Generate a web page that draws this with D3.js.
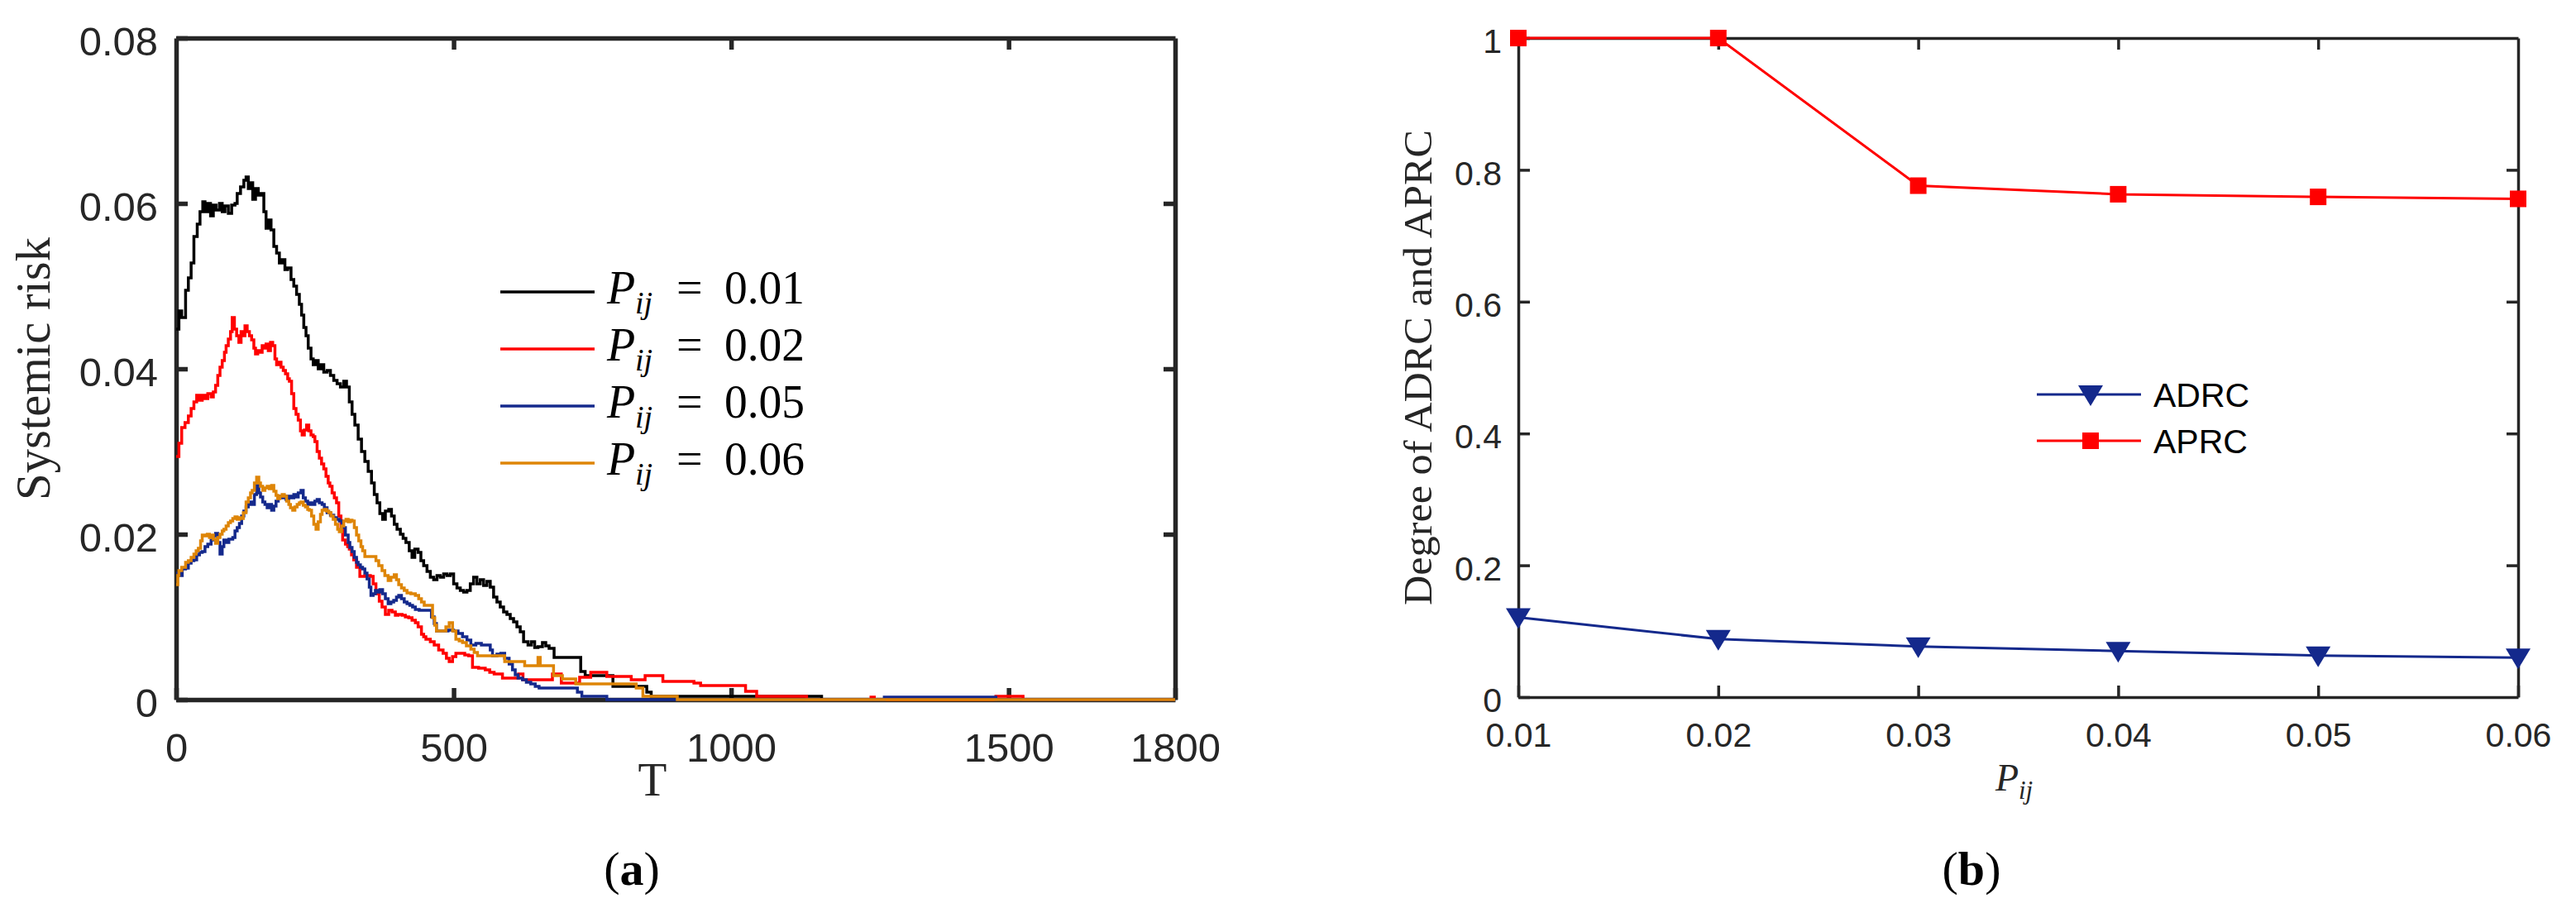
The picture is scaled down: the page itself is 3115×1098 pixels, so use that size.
<!DOCTYPE html>
<html>
<head>
<meta charset="utf-8">
<script src="https://cdn.jsdelivr.net/npm/d3@7"></script>
<style>
  body { margin: 0; background: #ffffff; }
  figure { margin: 0; }
</style>
</head>
<body>
<figure></figure>
<script>
// systemic risk over time T as [T, value]
const riskP001 = [
  [0, .0448], [5, .047], [10, .0462], [17, .0495], [22, .051], [27, .0528], [32, .056], [38, .0575],
  [43, .059], [48, .0602], [52, .059], [57, .06], [62, .0585], [67, .0598], [72, .0592], [78, .06],
  [83, .059], [88, .0597], [94, .0588], [100, .0598], [106, .06], [110, .0612], [116, .062], [122, .0628],
  [126, .0632], [130, .0618], [134, .0625], [138, .0605], [143, .0618], [148, .061], [153, .0612],
  [158, .059], [162, .057], [166, .058], [171, .0568], [176, .0548], [181, .054], [186, .0528],
  [191, .0532], [196, .052], [201, .0522], [207, .0508], [212, .05], [217, .049], [222, .0478],
  [226, .0465], [230, .045], [234, .044], [238, .0425], [243, .0412], [247, .0405], [252, .041],
  [256, .04], [261, .0405], [266, .0396], [272, .0398], [278, .0392], [284, .0386], [290, .0382],
  [296, .0378], [302, .0385], [307, .0378], [312, .036], [317, .0345], [322, .0332], [328, .0315],
  [334, .03], [340, .0288], [346, .0276], [352, .0262], [357, .0248], [362, .0238], [367, .0225],
  [372, .0218], [377, .0228], [383, .023], [388, .0222], [393, .0212], [398, .0206], [404, .02],
  [409, .0195], [414, .019], [420, .018], [425, .0172], [430, .0182], [436, .0178], [441, .0168],
  [446, .0162], [452, .0155], [458, .0148], [464, .0145], [470, .015], [476, .0148], [482, .0152],
  [488, .015], [494, .0152], [500, .014], [506, .0135], [512, .0132], [518, .013], [524, .0132],
  [530, .014], [536, .0148], [542, .014], [548, .0145], [554, .0138], [560, .0143], [566, .0136],
  [572, .0124], [578, .0118], [584, .0112], [590, .0106], [596, .0103], [602, .0098], [608, .0094],
  [614, .0088], [620, .0082], [626, .007], [634, .0066], [640, .007], [646, .0063], [652, .0064],
  [660, .0069], [666, .0065], [672, .0062], [681, .0051], [729, .0034], [737, .0029], [787, .0016],
  [848, .0009], [856, .0004], [1163, 0], [1800, 0]
];

const riskP002 = [
  [0, .0294], [5, .031], [10, .0329], [16, .0335], [22, .0343], [27, .0352], [32, .036], [37, .0368],
  [42, .0362], [47, .0368], [52, .0364], [57, .037], [63, .0366], [67, .0372], [71, .038], [75, .0392],
  [79, .0402], [83, .041], [87, .042], [90, .0428], [94, .0436], [98, .0445], [101, .0462], [105, .0448],
  [109, .044], [113, .0432], [117, .0445], [120, .044], [124, .0452], [128, .0445], [132, .044],
  [136, .0435], [140, .0425], [143, .0418], [147, .0422], [151, .042], [155, .0428], [158, .0425],
  [162, .043], [166, .0422], [170, .0432], [174, .0428], [178, .0412], [181, .0405], [185, .0408],
  [189, .0402], [193, .0398], [197, .0394], [201, .0388], [204, .0385], [208, .037], [212, .0352],
  [216, .0345], [220, .0338], [224, .0325], [227, .032], [231, .0326], [235, .0332], [239, .0325],
  [243, .032], [247, .0318], [250, .0312], [254, .03], [258, .0292], [262, .0285], [266, .0279],
  [270, .027], [274, .0262], [277, .0258], [281, .025], [285, .0244], [289, .0238], [293, .0222],
  [297, .0205], [300, .0193], [305, .0188], [309, .0185], [312, .0182], [316, .0175], [320, .0169],
  [325, .016], [331, .0149], [340, .015], [350, .0149], [355, .014], [360, .0128], [366, .0119],
  [371, .0112], [377, .0103], [383, .0108], [389, .0106], [395, .0102], [400, .0103], [407, .0102],
  [413, .01], [419, .0099], [425, .0096], [431, .0093], [436, .0088], [442, .0079], [446, .0076],
  [450, .0073], [458, .007], [465, .0066], [473, .006], [481, .0056], [487, .005], [492, .0046],
  [498, .0052], [504, .0056], [512, .0056], [520, .0054], [527, .0053], [534, .0039], [545, .0038],
  [557, .0036], [565, .0033], [573, .0031], [588, .0026], [617, .0031], [625, .0024], [678, .0031],
  [694, .002], [727, .0027], [747, .0033], [776, .0028], [820, .0024], [845, .0029], [877, .0022],
  [933, .002], [945, .0017], [1026, .001], [1046, .0004], [1136, 0], [1252, .0003], [1258, 0],
  [1477, .0004], [1526, 0], [1800, 0]
];

const riskP005 = [
  [0, .0153], [6, .015], [11, .0158], [17, .0159], [22, .0165], [27, .0168], [32, .0169], [37, .0175],
  [42, .0178], [47, .0179], [52, .0185], [57, .0188], [63, .0193], [67, .0198], [71, .0201], [75, .019],
  [79, .0176], [83, .0185], [86, .0193], [90, .019], [95, .0194], [102, .0196], [106, .0204], [110, .0208],
  [114, .0213], [118, .0222], [122, .0228], [126, .0233], [130, .0236], [133, .0239], [137, .0236],
  [141, .0248], [145, .0259], [149, .025], [152, .0245], [156, .0239], [160, .0236], [164, .0232],
  [168, .0236], [172, .0229], [176, .0234], [180, .024], [184, .0246], [188, .0244], [193, .0246],
  [198, .0242], [203, .0246], [208, .0244], [212, .0248], [216, .0245], [220, .025], [225, .0253],
  [229, .0244], [233, .024], [237, .0236], [241, .0238], [246, .0236], [250, .024], [254, .0242],
  [258, .0238], [263, .0236], [267, .0232], [272, .0226], [278, .0223], [284, .022], [289, .0218],
  [294, .0216], [299, .0208], [305, .0199], [310, .019], [313, .0184], [317, .0179], [321, .0172],
  [325, .0166], [328, .0163], [332, .016], [336, .0158], [340, .0153], [344, .0146], [348, .0136],
  [351, .0126], [355, .0128], [359, .0132], [363, .013], [367, .0133], [372, .0128], [377, .0122],
  [382, .0116], [387, .0118], [392, .012], [397, .0124], [401, .0126], [406, .0122], [411, .0118],
  [416, .0116], [421, .0114], [426, .0112], [431, .0109], [438, .0108], [446, .0108], [454, .0108],
  [460, .01], [465, .0092], [469, .0083], [480, .0083], [490, .0084], [500, .0083], [508, .008],
  [516, .0076], [524, .0072], [531, .0066], [540, .0068], [550, .0066], [562, .0066], [566, .006],
  [570, .0053], [578, .0055], [585, .0056], [592, .005], [600, .0043], [606, .0036], [611, .003],
  [616, .0026], [624, .0024], [631, .0021], [639, .0019], [647, .0016], [654, .0014], [715, .0014],
  [723, .0009], [731, .0004], [776, 0], [1276, .0003], [1477, 0], [1800, 0]
];

const riskP006 = [
  [0, .0139], [3, .015], [5, .0156], [10, .016], [17, .0166], [22, .0168], [27, .0172], [32, .0176],
  [36, .018], [40, .0183], [44, .0192], [47, .0199], [52, .0198], [56, .02], [60, .0196], [63, .0199],
  [67, .0194], [71, .0189], [75, .0196], [79, .02], [83, .0204], [86, .0206], [90, .021], [94, .0214],
  [98, .0216], [102, .0219], [106, .0221], [110, .0218], [114, .022], [117, .0219], [121, .0226],
  [126, .0239], [130, .0244], [134, .025], [137, .0253], [141, .0262], [145, .0269], [149, .0262],
  [152, .0258], [156, .0253], [160, .0256], [164, .0258], [168, .0255], [172, .0259], [176, .0252],
  [180, .0247], [183, .0243], [187, .0246], [191, .0248], [195, .0246], [199, .024], [203, .0236],
  [206, .0232], [210, .0229], [214, .0233], [218, .0236], [222, .0238], [225, .0239], [229, .0235],
  [233, .0233], [237, .023], [240, .0229], [244, .0222], [248, .0212], [252, .0206], [256, .0215],
  [260, .0224], [263, .0229], [267, .023], [271, .0228], [275, .0226], [279, .0222], [283, .0218],
  [287, .0212], [291, .0206], [294, .0203], [298, .021], [302, .0216], [306, .0218], [310, .0215],
  [314, .0217], [317, .0216], [321, .0208], [325, .0199], [329, .0192], [333, .0185], [336, .018],
  [340, .0173], [350, .0173], [355, .0173], [360, .0168], [365, .0162], [371, .0156], [376, .015],
  [382, .0144], [387, .0148], [393, .0151], [397, .0145], [401, .0139], [406, .0135], [411, .0132],
  [416, .0129], [423, .0128], [431, .0126], [437, .0122], [442, .0118], [447, .0114], [458, .0114],
  [462, .0099], [466, .009], [469, .0083], [475, .0083], [481, .0083], [486, .0088], [492, .0093],
  [498, .0083], [504, .0073], [510, .0071], [516, .0069], [523, .0065], [531, .0061], [537, .0057],
  [543, .0053], [585, .0053], [592, .0046], [623, .0046], [628, .0041], [648, .0041], [652, .0051],
  [656, .0041], [680, .0029], [696, .0025], [720, .0019], [829, .0014], [841, .0004], [903, 0], [1800, 0]
];

const riskLabels = ["0.01", "0.02", "0.05", "0.06"];
const riskColors = ["#000000", "#ff0000", "#14298c", "#de8507"];
const tTicks = [0, 500, 1000, 1500, 1800];
const riskTicks = [0, 0.02, 0.04, 0.06, 0.08];

// panel (b)
const pijValues = [0.01, 0.02, 0.03, 0.04, 0.05, 0.06];
const adrcValues = [0.121, 0.088, 0.077, 0.070, 0.063, 0.060];
const aprcValues = [1.0, 1.0, 0.776, 0.763, 0.759, 0.756];
const degreeTicks = [0, 0.2, 0.4, 0.6, 0.8, 1];
const degreeLabels = ["0", "0.2", "0.4", "0.6", "0.8", "1"];

const axisColor = "#262626";
const sans = "'Liberation Sans', Arial, sans-serif";
const serif = "'Liberation Serif', 'Times New Roman', serif";

const width = 3115;
const height = 1098;

const styleAxis = (g, lw, fs) => {
  g.select(".domain").attr("stroke", axisColor).attr("stroke-width", lw);
  g.selectAll(".tick line").attr("stroke", axisColor).attr("stroke-width", lw);
  g.selectAll(".tick text")
    .attr("fill", axisColor)
    .style("font-family", sans)
    .style("font-size", fs + "px");
};

const draw = () => {
  const svg = d3
    .select("figure")
    .append("svg")
    .attr("width", width)
    .attr("height", height);

  svg.append("rect").attr("width", width).attr("height", height).attr("fill", "#ffffff");

  // ---------- panel (a) ----------
  const xa = d3.scaleLinear().domain([0, 1800]).range([213, 1421]);
  const ya = d3.scaleLinear().domain([0, 0.08]).range([846, 46]);
  const lwA = 5.5;
  const tickA = 14;

  const ga = svg.append("g");

  const line = d3
    .line()
    .x((d) => xa(d[0]))
    .y((d) => ya(d[1]))
    .curve(d3.curveStepAfter);

  ga.append("g")
    .attr("transform", `translate(0,${ya(0)})`)
    .call(d3.axisBottom(xa).tickValues(tTicks).tickSize(-tickA).tickSizeOuter(0).tickPadding(40).tickFormat(d3.format("d")))
    .call(styleAxis, lwA, 49);
  ga.append("g")
    .attr("transform", `translate(0,${ya(0.08)})`)
    .call(d3.axisTop(xa).tickValues([500, 1000, 1500]).tickSize(-tickA).tickSizeOuter(0).tickFormat(""))
    .call(styleAxis, lwA, 49);
  ga.append("g")
    .attr("transform", `translate(${xa(0)},0)`)
    .call(d3.axisLeft(ya).tickValues(riskTicks).tickSize(-tickA).tickSizeOuter(0).tickPadding(22).tickFormat((d) => (d === 0 ? "0" : d3.format(".2f")(d))))
    .call(styleAxis, lwA, 49)
    .call((g) => g.selectAll(".tick text").attr("dy", "0.42em"));
  ga.append("g")
    .attr("transform", `translate(${xa(1800)},0)`)
    .call(d3.axisRight(ya).tickValues([0.02, 0.04, 0.06]).tickSize(-tickA).tickSizeOuter(0).tickFormat(""))
    .call(styleAxis, lwA, 49);

  const seriesA = [riskP001, riskP002, riskP005, riskP006];
  seriesA.forEach((s, i) => {
    ga.append("path")
      .datum(s)
      .attr("fill", "none")
      .attr("stroke", riskColors[i])
      .attr("stroke-width", 3.5)
      .attr("stroke-linejoin", "miter")
      .attr("d", line);
  });

  ga.append("text")
    .attr("transform", `translate(60,${ya(0.04)}) rotate(-90)`)
    .attr("text-anchor", "middle")
    .attr("textLength", 318)
    .attr("lengthAdjust", "spacingAndGlyphs")
    .style("font-family", serif)
    .style("font-size", "59px")
    .attr("fill", axisColor)
    .text("Systemic risk");

  ga.append("text")
    .attr("x", 789)
    .attr("y", 962)
    .attr("text-anchor", "middle")
    .style("font-family", serif)
    .style("font-size", "57px")
    .attr("fill", axisColor)
    .text("T");

  // legend (a)
  const legA = ga.append("g");
  riskLabels.forEach((lab, i) => {
    const ly = 353 + i * 69;
    legA.append("line")
      .attr("x1", 605).attr("x2", 719)
      .attr("y1", ly).attr("y2", ly)
      .attr("stroke", riskColors[i])
      .attr("stroke-width", 3.5);
    legA.append("text")
      .attr("x", 734).attr("y", ly + 14)
      .style("font-family", serif).style("font-style", "italic").style("font-size", "56px")
      .text("P");
    legA.append("text")
      .attr("x", 768).attr("y", ly + 26)
      .style("font-family", serif).style("font-style", "italic").style("font-size", "38px")
      .text("ij");
    legA.append("text")
      .attr("x", 818).attr("y", ly + 14)
      .style("font-family", serif).style("font-size", "56px")
      .text("=");
    legA.append("text")
      .attr("x", 876).attr("y", ly + 14)
      .attr("textLength", 97)
      .attr("lengthAdjust", "spacingAndGlyphs")
      .style("font-family", serif).style("font-size", "56px")
      .text(lab);
  });

  ga.append("text")
    .attr("x", 764).attr("y", 1070)
    .attr("text-anchor", "middle")
    .style("font-family", serif).style("font-size", "58px")
    .html("(<tspan font-weight='bold'>a</tspan>)");

  // ---------- panel (b) ----------
  const xb = d3.scaleLinear().domain([0.01, 0.06]).range([1836, 3045]);
  const yb = d3.scaleLinear().domain([0, 1]).range([843, 46]);
  const lwB = 3.5;
  const tickB = 14;

  const gb = svg.append("g");

  gb.append("g")
    .attr("transform", `translate(0,${yb(0)})`)
    .call(d3.axisBottom(xb).tickValues(pijValues).tickSize(-tickB).tickSizeOuter(0).tickPadding(31).tickFormat(d3.format(".2f")))
    .call(styleAxis, lwB, 41);
  gb.append("g")
    .attr("transform", `translate(0,${yb(1)})`)
    .call(d3.axisTop(xb).tickValues(pijValues.slice(1, 5)).tickSize(-tickB).tickSizeOuter(0).tickFormat(""))
    .call(styleAxis, lwB, 41);
  gb.append("g")
    .attr("transform", `translate(${xb(0.01)},0)`)
    .call(d3.axisLeft(yb).tickValues(degreeTicks).tickSize(-tickB).tickSizeOuter(0).tickPadding(20).tickFormat((d, i) => degreeLabels[i]))
    .call(styleAxis, lwB, 41)
    .call((g) => g.selectAll(".tick text").attr("dy", "0.43em"));
  gb.append("g")
    .attr("transform", `translate(${xb(0.06)},0)`)
    .call(d3.axisRight(yb).tickValues(degreeTicks.slice(1, 5)).tickSize(-tickB).tickSizeOuter(0).tickFormat(""))
    .call(styleAxis, lwB, 41);

  const lineB = (vals) =>
    d3.line().x((d, i) => xb(pijValues[i])).y((d) => yb(d))(vals);

  const blue = "#14298c";
  const red = "#ff0000";
  const triangle = "M-15,-11L15,-11L0,14Z";

  gb.append("path")
    .attr("d", lineB(adrcValues))
    .attr("fill", "none").attr("stroke", blue).attr("stroke-width", 3);
  gb.selectAll("path.adrc")
    .data(adrcValues)
    .enter()
    .append("path")
    .attr("class", "adrc")
    .attr("transform", (d, i) => `translate(${xb(pijValues[i])},${yb(d)})`)
    .attr("d", triangle)
    .attr("fill", blue);

  gb.append("path")
    .attr("d", lineB(aprcValues))
    .attr("fill", "none").attr("stroke", red).attr("stroke-width", 3);
  gb.selectAll("rect.aprc")
    .data(aprcValues)
    .enter()
    .append("rect")
    .attr("class", "aprc")
    .attr("x", (d, i) => xb(pijValues[i]) - 10)
    .attr("y", (d) => yb(d) - 10)
    .attr("width", 20).attr("height", 20)
    .attr("fill", red);

  gb.append("text")
    .attr("transform", `translate(1731,${yb(0.5)}) rotate(-90)`)
    .attr("text-anchor", "middle")
    .attr("textLength", 575)
    .attr("lengthAdjust", "spacingAndGlyphs")
    .style("font-family", serif)
    .style("font-size", "49px")
    .attr("fill", axisColor)
    .text("Degree of ADRC and APRC");

  gb.append("text")
    .attr("x", 2413).attr("y", 956)
    .style("font-family", serif).style("font-style", "italic").style("font-size", "46px")
    .attr("fill", axisColor)
    .text("P");
  gb.append("text")
    .attr("x", 2441).attr("y", 966)
    .style("font-family", serif).style("font-style", "italic").style("font-size", "31px")
    .attr("fill", axisColor)
    .text("ij");

  // legend (b)
  const legB = gb.append("g");
  [
    { name: "ADRC", color: blue, ly: 477 },
    { name: "APRC", color: red, ly: 533 },
  ].forEach((d) => {
    legB.append("line")
      .attr("x1", 2463).attr("x2", 2589)
      .attr("y1", d.ly).attr("y2", d.ly)
      .attr("stroke", d.color).attr("stroke-width", 3);
    if (d.name === "ADRC") {
      legB.append("path")
        .attr("transform", `translate(2528,${d.ly})`)
        .attr("d", triangle).attr("fill", d.color);
    } else {
      legB.append("rect")
        .attr("x", 2518).attr("y", d.ly - 10)
        .attr("width", 20).attr("height", 20)
        .attr("fill", d.color);
    }
    legB.append("text")
      .attr("x", 2604).attr("y", d.ly + 15)
      .style("font-family", sans).style("font-size", "41px")
      .attr("fill", "#000000")
      .text(d.name);
  });

  gb.append("text")
    .attr("x", 2384).attr("y", 1070)
    .attr("text-anchor", "middle")
    .style("font-family", serif).style("font-size", "58px")
    .html("(<tspan font-weight='bold'>b</tspan>)");
};

draw();
</script>
</body>
</html>
